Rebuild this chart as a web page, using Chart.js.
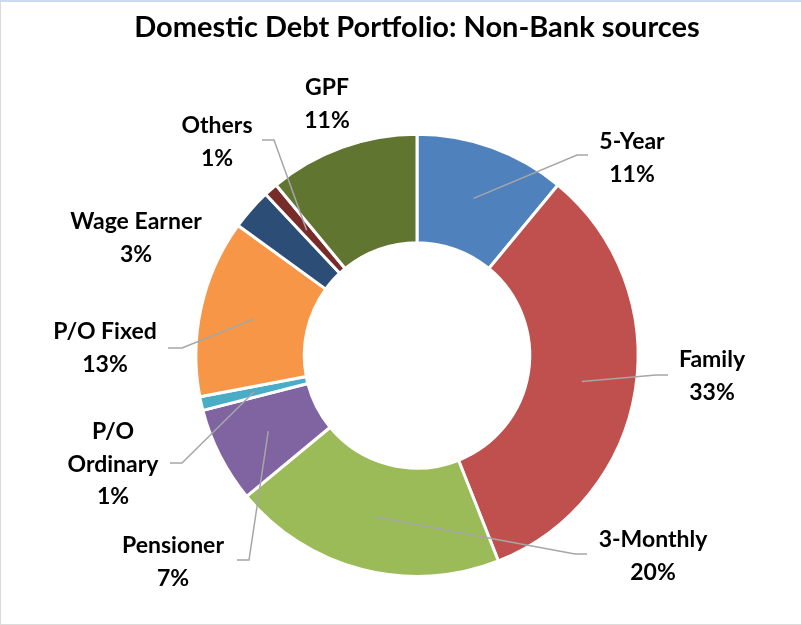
<!DOCTYPE html>
<html>
<head>
<meta charset="utf-8">
<script src="https://cdn.jsdelivr.net/npm/chart.js@4.4.1/dist/chart.umd.min.js"></script>
<style>
  html, body { margin: 0; padding: 0; background: #fff; }
  #wrap { position: relative; width: 801px; height: 625px; }
  #frame {
    position: absolute; left: 0; top: 0; width: 801px; height: 625px;
    box-sizing: border-box; pointer-events: none;
    border-top: 2px solid #cbdaee; border-left: 1px solid #d9d9d9; border-bottom: 1px solid #dcdcdc;
  }
</style>
</head>
<body>
<div id="wrap">
  <canvas id="debtChart" width="801" height="625"></canvas>
  <div id="frame"></div>
</div>
<script>
// Non-bank sources of domestic debt, share in percent
const sources = ['5-Year', 'Family', '3-Monthly', 'Pensioner', 'P/O Ordinary', 'P/O Fixed', 'Wage Earner', 'Others', 'GPF'];
const shares = [11, 33, 20, 7, 1, 13, 3, 1, 11];
const sliceColors = ['#4F81BD', '#C0504D', '#9BBB59', '#8064A2', '#4BACC6', '#F79646', '#2C4D75', '#772C2A', '#5F7530'];

// where each label sits (text centre, first line) and its leader line bend/end
const labelSpots = [
    { x: 632, y: 142, bend: [577, 155], end: [588, 155] },
    { x: 712, y: 360, bend: [656, 375], end: [668, 375] },
    { x: 653, y: 540, bend: [575, 554], end: [587, 554] },
    { x: 173, y: 546, bend: [249, 560], end: [237, 560] },
    { x: 113, y: 432, bend: [182, 463], end: [170, 463], split: true },
    { x: 105, y: 332, bend: [182, 348], end: [168, 348] },
    { x: 136, y: 222 },
    { x: 217, y: 126, bend: [274, 140], end: [262, 140] },
    { x: 327, y: 88 }
];

const fontStack = 'Lato, "Open Sans", sans-serif';
const labelFont = 'bold 23px ' + fontStack;
const lineGap = 32.5;

// draws the outside labels with their grey leader lines
const outsideLabels = {
    id: 'outsideLabels',
    afterDatasetsDraw(chart) {
        const ctx = chart.ctx;
        const arcs = chart.getDatasetMeta(0).data;
        ctx.save();
        arcs.forEach((arc, i) => {
            const spot = labelSpots[i];
            if (spot.bend) {
                const p = arc.tooltipPosition();
                ctx.beginPath();
                ctx.moveTo(p.x, p.y);
                ctx.lineTo(spot.bend[0], spot.bend[1]);
                ctx.lineTo(spot.end[0], spot.end[1]);
                ctx.strokeStyle = '#a6a6a6';
                ctx.lineWidth = 1.5;
                ctx.stroke();
            }
        });
        ctx.font = labelFont;
        ctx.fillStyle = '#000';
        ctx.textAlign = 'center';
        ctx.textBaseline = 'middle';
        arcs.forEach((arc, i) => {
            const spot = labelSpots[i];
            const name = sources[i];
            const lines = spot.split ? name.split(' ') : [name];
            lines.push(shares[i] + '%');
            lines.forEach((t, k) => ctx.fillText(t, spot.x, spot.y + k * lineGap));
        });
        ctx.restore();
    }
};

new Chart(document.getElementById('debtChart').getContext('2d'), {
    type: 'doughnut',
    data: {
        labels: sources,
        datasets: [{
            data: shares,
            backgroundColor: sliceColors,
            borderColor: '#ffffff',
            borderWidth: 3
        }]
    },
    options: {
        responsive: false,
        animation: false,
        events: [],
        cutout: '51%',
        layout: { padding: { top: 0, bottom: 47, left: 100, right: 67 } },
        plugins: {
            legend: { display: false },
            tooltip: { enabled: false },
            title: {
                display: true,
                text: 'Domestic Debt Portfolio: Non-Bank sources',
                color: '#000',
                font: { family: fontStack, size: 29, weight: 'bold' },
                padding: { top: 10, bottom: 88 }
            }
        }
    },
    plugins: [outsideLabels]
});
</script>
</body>
</html>
